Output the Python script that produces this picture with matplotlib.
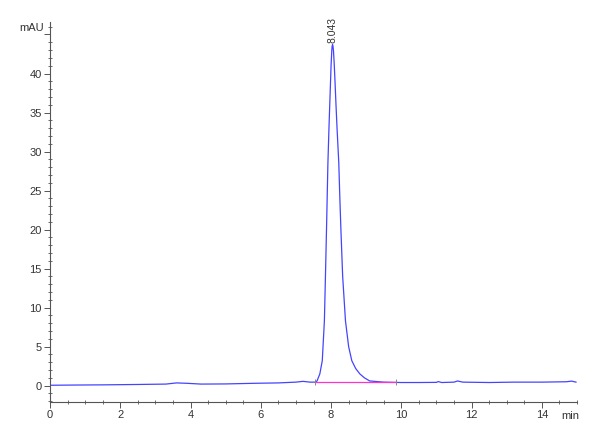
import matplotlib
matplotlib.use("Agg")
import numpy as np
from matplotlib import pyplot as plt
from matplotlib.ticker import MultipleLocator
import matplotlib.transforms as mtransforms

# chromatogram trace (min, mAU)
time_min = [0.0, 0.8, 1.5, 2.5, 3.3, 3.6, 3.9, 4.3, 5.0, 5.8, 6.5, 7.0, 7.2, 7.4,
            7.55, 7.6, 7.68, 7.75, 7.81, 7.84, 7.87, 7.91, 7.94, 7.97, 8.0, 8.02,
            8.03, 8.043, 8.055, 8.07, 8.09, 8.11, 8.14, 8.17, 8.22, 8.25, 8.28,
            8.33, 8.41, 8.5, 8.59, 8.7, 8.82, 8.95, 9.1, 9.5, 10.0, 10.5, 11.0,
            11.05, 11.15, 11.5, 11.6, 11.75, 12.5, 13.2, 14.0, 14.7, 14.85, 14.97]
signal_mau = [0.05, 0.08, 0.1, 0.15, 0.2, 0.35, 0.3, 0.2, 0.22, 0.3, 0.35, 0.45, 0.55, 0.45,
              0.45, 0.6, 1.5, 3.2, 8.3, 14.0, 20.0, 28.5, 33.0, 37.0, 41.0, 42.9,
              43.5, 43.7, 43.5, 42.8, 41.2, 39.2, 36.0, 33.0, 28.5, 24.0, 20.0,
              14.0, 8.3, 5.0, 3.2, 2.2, 1.5, 1.0, 0.6, 0.45, 0.4, 0.4, 0.42,
              0.52, 0.4, 0.45, 0.6, 0.45, 0.4, 0.45, 0.45, 0.5, 0.58, 0.45]

peak_rt = 8.043
peak_height = 43.7
baseline_x = [7.55, 9.85]
baseline_y = [0.42, 0.42]

plt.rcParams["font.family"] = ["Liberation Sans", "DejaVu Sans"]
txt = "#333333"

fig = plt.figure(figsize=(6, 4.4), dpi=100)
ax = fig.add_axes([0.0833, 0.087, 0.8784, 0.863])

ax.plot(time_min, signal_mau, color="#4444ff", lw=0.9)
ax.plot(baseline_x, baseline_y, color="#ff33cc", lw=0.9)
ax.plot(baseline_x, baseline_y, ls="none", marker="|", ms=4,
        mew=0.7, color="#888888")

ax.annotate(f"{peak_rt:.3f}", xy=(peak_rt, peak_height), xytext=(0, 1.5),
            textcoords="offset points", rotation=90, ha="center", va="bottom",
            fontsize=7.5, color=txt)

ax.set_xlim(0, 15.0)
ax.set_ylim(-2.06, 46.6)
ax.xaxis.set_major_locator(MultipleLocator(2))
ax.xaxis.set_minor_locator(MultipleLocator(0.5))
ax.set_yticks(np.arange(0, 46, 5))
ax.set_yticklabels([str(v) if v < 45 else "" for v in range(0, 46, 5)])
ax.yaxis.set_minor_locator(MultipleLocator(1))

for side in ("top", "right"):
    ax.spines[side].set_visible(False)
for side in ("left", "bottom"):
    ax.spines[side].set_color("#555555")
    ax.spines[side].set_linewidth(0.8)

ax.tick_params(which="major", direction="out", length=4, width=0.7,
               colors="#555555", labelcolor=txt, labelsize=8, pad=2)
ax.tick_params(which="minor", direction="inout", length=3, width=0.6,
               colors="#555555")

trans_y = mtransforms.blended_transform_factory(ax.transAxes, ax.transData)
ax.text(-0.012, 45.8, "mAU", transform=trans_y, ha="right", va="center",
        fontsize=8, color=txt)
trans_x = mtransforms.blended_transform_factory(ax.transData, ax.transAxes)
ax.text(14.8, -0.025, "min", transform=trans_x, ha="center", va="top",
        fontsize=8, color=txt)

plt.savefig("out.png", dpi=100)
plt.close()
